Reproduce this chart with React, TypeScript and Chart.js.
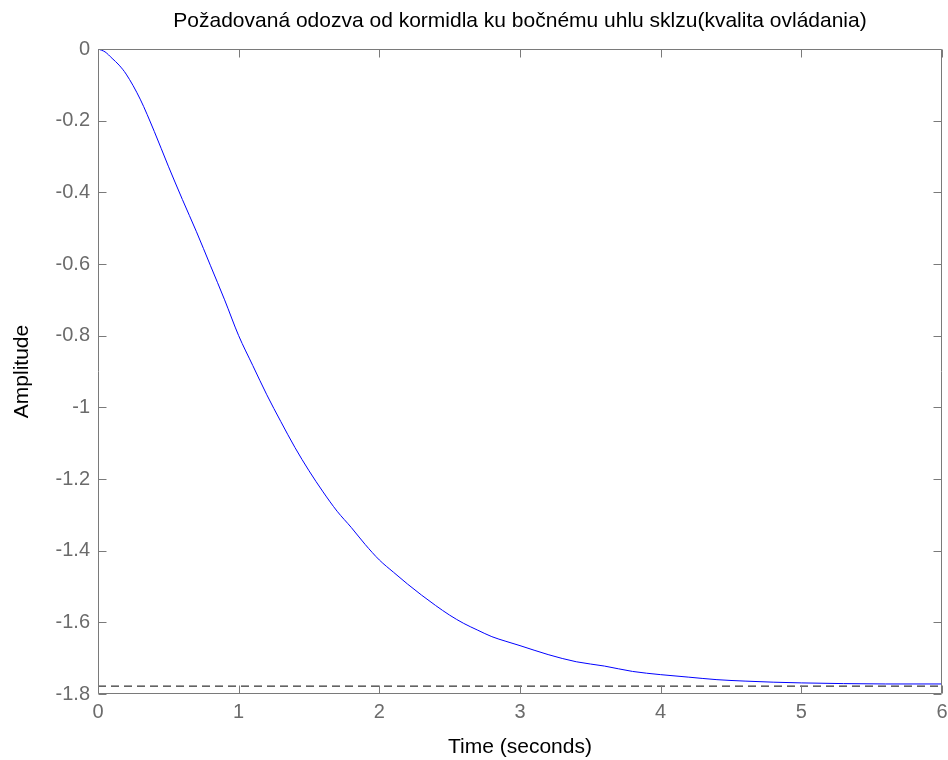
import React, { useEffect, useRef } from "react";
import { Chart, registerables } from "chart.js";

Chart.register(...registerables);

const TITLE = "Požadovaná odozva od kormidla ku bočnému uhlu sklzu(kvalita ovládania)";
const X_LABEL = "Time (seconds)";
const Y_LABEL = "Amplitude";

const timeValues = [
  0, 0.05, 0.1, 0.15, 0.2, 0.3, 0.4, 0.5, 0.6, 0.7, 0.8, 0.9, 1.0, 1.1, 1.2, 1.3,
  1.4, 1.5, 1.6, 1.7, 1.8, 1.9, 2.0, 2.1, 2.2, 2.3, 2.4, 2.5, 2.6, 2.7, 2.8, 2.9,
  3.0, 3.2, 3.4, 3.6, 3.8, 4.0, 4.2, 4.4, 4.6, 4.8, 5.0, 5.3, 5.6, 6.0,
];
const amplitudeValues = [
  0, -0.008, -0.026, -0.045, -0.07, -0.14, -0.23, -0.327, -0.42, -0.51, -0.605,
  -0.7, -0.8, -0.883, -0.965, -1.04, -1.112, -1.177, -1.236, -1.29, -1.335,
  -1.383, -1.426, -1.46, -1.493, -1.524, -1.553, -1.58, -1.603, -1.622, -1.64,
  -1.653, -1.665, -1.69, -1.71, -1.722, -1.737, -1.746, -1.753, -1.76, -1.764,
  -1.767, -1.769, -1.771, -1.772, -1.772,
];
const finalValue = -1.778;
const xRange = [0, 6];
const yRange = [-1.8, 0];
const xTickStep = 1;
const yTickStep = 0.2;

const FONT = '"Liberation Sans", Arial, Helvetica, sans-serif';
const AXIS_COLOR = "#7a7a7a";
const TICK_TEXT = "#6b6b6b";

export default function App() {
  const ref = useRef<HTMLCanvasElement | null>(null);

  useEffect(() => {
    document.body.style.margin = "0";
    const canvas = ref.current;
    if (!canvas) return;

    const framePlugin = {
      id: "matlabFrame",
      afterDraw(chart: any) {
        const { ctx, chartArea } = chart;
        const { left, right, top, bottom } = chartArea;
        const xs = chart.scales.x;
        const ys = chart.scales.y;
        ctx.save();
        ctx.strokeStyle = AXIS_COLOR;
        ctx.lineWidth = 1;
        const L = Math.round(left) + 0.5;
        const R = Math.round(right) - 0.5;
        const T = Math.round(top) + 0.5;
        const B = Math.round(bottom) - 0.5;
        ctx.beginPath();
        ctx.rect(L, T, R - L, B - T);
        ctx.stroke();
        const tl = 8;
        ctx.beginPath();
        for (let v = xRange[0]; v <= xRange[1] + 1e-9; v += xTickStep) {
          const px = Math.round(xs.getPixelForValue(v)) + 0.5;
          ctx.moveTo(px, B);
          ctx.lineTo(px, B - tl);
          ctx.moveTo(px, T);
          ctx.lineTo(px, T + tl);
        }
        for (let v = yRange[0]; v <= yRange[1] + 1e-9; v += yTickStep) {
          const py = Math.round(ys.getPixelForValue(v)) + 0.5;
          ctx.moveTo(L, py);
          ctx.lineTo(L + tl, py);
          ctx.moveTo(R, py);
          ctx.lineTo(R - tl, py);
        }
        ctx.stroke();

        ctx.fillStyle = "#000";
        ctx.textAlign = "center";
        ctx.textBaseline = "middle";
        ctx.font = `21px ${FONT}`;
        ctx.fillText(TITLE, (left + right) / 2, 21);
        ctx.fillText(X_LABEL, (left + right) / 2, 747);
        ctx.translate(22, (top + bottom) / 2);
        ctx.rotate(-Math.PI / 2);
        ctx.fillText(Y_LABEL, 0, 0);
        ctx.restore();
      },
    };

    const chart = new Chart(canvas, {
      type: "line",
      data: {
        datasets: [
          {
            data: timeValues.map((t, i) => ({ x: t, y: amplitudeValues[i] })),
            borderColor: "#0000ff",
            borderWidth: 1,
            pointRadius: 0,
            cubicInterpolationMode: "monotone",
            fill: false,
          },
          {
            data: [
              { x: xRange[0], y: finalValue },
              { x: xRange[1], y: finalValue },
            ],
            borderColor: "#000000",
            borderWidth: 1,
            borderDash: [8, 5],
            pointRadius: 0,
            fill: false,
          },
        ],
      },
      options: {
        animation: false,
        responsive: true,
        maintainAspectRatio: false,
        layout: { padding: { top: 49, right: 6, left: 0, bottom: 0 } },
        plugins: {
          legend: { display: false },
          tooltip: { enabled: false },
          title: { display: false },
        },
        scales: {
          x: {
            type: "linear",
            min: xRange[0],
            max: xRange[1],
            afterFit: (s: any) => {
              s.height = 66;
              s.paddingLeft = 0;
              s.paddingRight = 0;
            },
            ticks: {
              stepSize: xTickStep,
              color: TICK_TEXT,
              font: { family: FONT, size: 20 },
              padding: 6,
              maxRotation: 0,
              callback: (v: any) => String(Number(Number(v).toFixed(1))),
            },
            grid: { display: false, drawTicks: false },
            border: { display: false },
          },
          y: {
            type: "linear",
            min: yRange[0],
            max: yRange[1],
            afterFit: (s: any) => {
              s.width = 98;
              s.paddingTop = 0;
              s.paddingBottom = 0;
            },
            ticks: {
              stepSize: yTickStep,
              color: TICK_TEXT,
              font: { family: FONT, size: 20 },
              padding: 8,
              callback: (v: any) => String(Number(Number(v).toFixed(1))),
            },
            grid: { display: false, drawTicks: false },
            border: { display: false },
          },
        },
      },
      plugins: [framePlugin],
    });
    return () => chart.destroy();
  }, []);

  return (
    <div style={{ position: "relative", width: 948, height: 760, background: "#fff" }}>
      <canvas ref={ref} />
    </div>
  );
}
